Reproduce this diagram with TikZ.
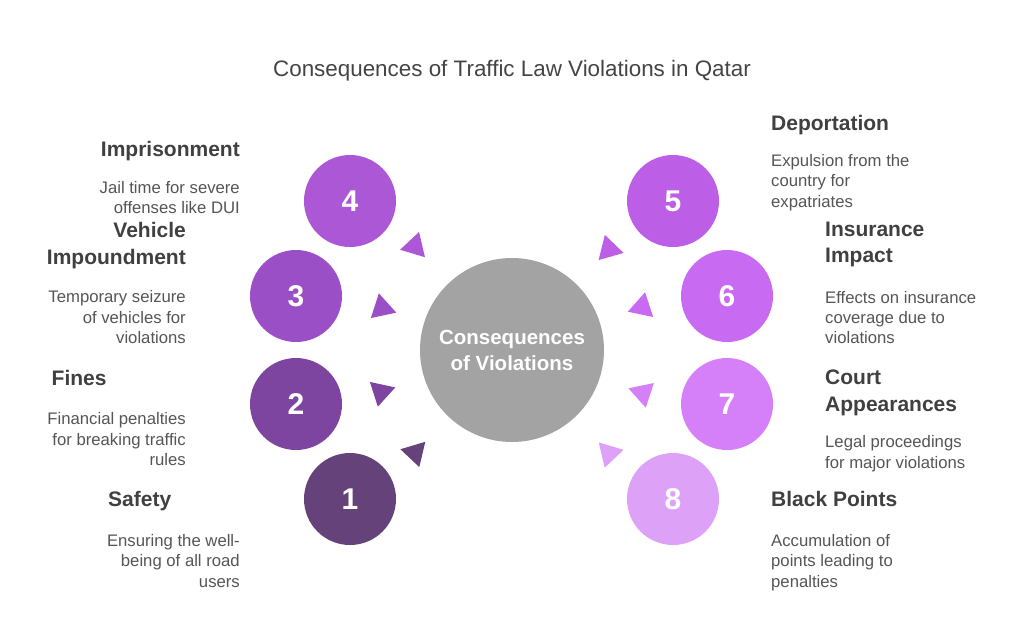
\documentclass[tikz,border=0pt]{standalone}
\usepackage{fontspec}
\setmainfont{Liberation Sans}
\usetikzlibrary{calc}
\definecolor{c1}{HTML}{65427A}
\definecolor{c2}{HTML}{7E45A0}
\definecolor{c3}{HTML}{9B4FC6}
\definecolor{c4}{HTML}{AC57D5}
\definecolor{c5}{HTML}{BC5FE6}
\definecolor{c6}{HTML}{C96BF2}
\definecolor{c7}{HTML}{D57FF9}
\definecolor{c8}{HTML}{DDA2F7}
\definecolor{cgray}{HTML}{A3A3A3}
\definecolor{tgray}{HTML}{404040}
\definecolor{dgray}{HTML}{555555}
\definecolor{hgray}{HTML}{444444}
\begin{document}
\begin{tikzpicture}[x=1pt,y=-1pt,
  numcirc/.style={circle, minimum size=92pt, inner sep=0pt, text=white,
    font=\fontsize{30}{30}\selectfont\bfseries},
  ttl/.style={font=\fontsize{21}{26.7}\selectfont\bfseries, text=tgray, inner sep=0pt},
  dsc/.style={font=\fontsize{16.7}{20.3}\selectfont, text=dgray, inner sep=0pt},
]
\useasboundingbox (0,0) rectangle (1024,619);

% title
\node[font=\fontsize{22.4}{26}\selectfont, text=hgray, anchor=base, inner sep=0pt] (title) at (512,76.5)
  {Consequences of Traffic Law Violations in Qatar};

% centre
\node[circle, fill=cgray, minimum size=184pt, inner sep=0pt, text=white, align=center,
  font=\fontsize{20.5}{26}\selectfont\bfseries] (O) at (512,350) {Consequences\\of Violations};

% numbered circles
\node[numcirc, fill=c1] (n1) at (350,499) {1};
\node[numcirc, fill=c2] (n2) at (296,404) {2};
\node[numcirc, fill=c3] (n3) at (296,296) {3};
\node[numcirc, fill=c4] (n4) at (350,201) {4};
\node[numcirc, fill=c5] (n5) at (673,201) {5};
\node[numcirc, fill=c6] (n6) at (727,296) {6};
\node[numcirc, fill=c7] (n7) at (727,404) {7};
\node[numcirc, fill=c8] (n8) at (673,499) {8};

% triangles pointing to the centre
\coordinate (t1) at (415,452.7);
\coordinate (t2) at (381,392);
\coordinate (t3) at (382,308);
\coordinate (t4) at (414.7,246.3);
\coordinate (t5) at (609,249.3);
\coordinate (t6) at (642,307);
\coordinate (t7) at (642.7,393);
\coordinate (t8) at (609,453.3);
\foreach \i in {1,...,8}{
  \fill[c\i] ($(t\i)!15pt!(O.center)$) -- ($(t\i)!15pt!120:(O.center)$) -- ($(t\i)!15pt!-120:(O.center)$) -- cycle;
}

% left labels
\node[ttl, anchor=base east] (l4) at (240,156.7) {Imprisonment};
\node[dsc, anchor=north east, align=right] (d4) at (240,181) {Jail time for severe\\offenses like DUI};
\node[ttl, anchor=north east, align=right] (l3) at (186,222) {Vehicle\\Impoundment};
\node[dsc, anchor=north east, align=right] (d3) at (186,290.5) {Temporary seizure\\of vehicles for\\violations};
\node[ttl, anchor=base west] (l2) at (51.5,385) {Fines};
\node[dsc, anchor=north east, align=right] (d2) at (186,412.5) {Financial penalties\\for breaking traffic\\rules};
\node[ttl, anchor=base west] (l1) at (108,506.5) {Safety};
\node[dsc, anchor=north east, align=right] (d1) at (240,534.3) {Ensuring the well-\\being of all road\\users};

% right labels
\node[ttl, anchor=base west] (l5) at (771,130) {Deportation};
\node[dsc, anchor=north west, align=left] (d5) at (771,154.3) {Expulsion from the\\country for\\expatriates};
\node[ttl, anchor=north west, align=left] (l6) at (825,221.5) {Insurance\\Impact};
\node[dsc, anchor=north west, align=left] (d6) at (825,290.8) {Effects on insurance\\coverage due to\\violations};
\node[ttl, anchor=north west, align=left] (l7) at (825,369.8) {Court\\Appearances};
\node[dsc, anchor=north west, align=left] (d7) at (825,435.5) {Legal proceedings\\for major violations};
\node[ttl, anchor=base west] (l8) at (771,506.5) {Black Points};
\node[dsc, anchor=north west, align=left] (d8) at (771,534.3) {Accumulation of\\points leading to\\penalties};
\end{tikzpicture}
\end{document}
